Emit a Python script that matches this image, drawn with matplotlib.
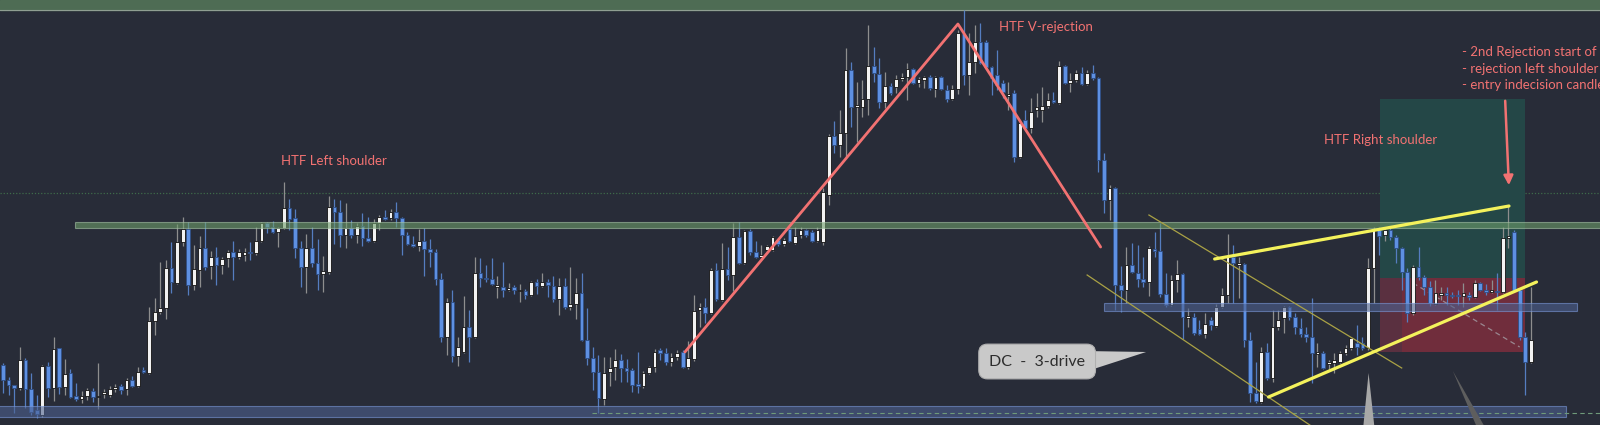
import numpy as np
import matplotlib.pyplot as plt
from matplotlib.patches import Rectangle, Polygon

# candle levels, in screen rows (0 = top edge, 425 = bottom)
opens = [
    365, 380, 385, 388, 360, 389, 410, 415, 366, 388, 348, 387, 373, 396, 399, 396, 391, 397,
    394, 395, 389, 386, 389, 380, 386, 370, 373, 321, 312, 308, 268, 283, 242, 229, 285, 270,
    248, 266, 257, 265, 258, 252, 257, 255, 252, 253, 241, 223, 227, 232, 228, 208, 218, 248,
    267, 248, 263, 274, 272, 207, 212, 235, 228, 235, 226, 238, 241, 223, 217, 218, 212,
    218, 235, 244, 246, 241, 249, 252, 279, 337, 302, 356, 352, 327, 337, 273, 278, 279, 287,
    287, 290, 287, 291, 291, 295, 282, 286, 282, 286, 299, 286, 307, 304, 293, 340, 358, 372,
    399, 372, 367, 360, 368, 370, 384, 386, 373, 367, 350, 353, 362, 357, 352, 367, 359, 310,
    307, 313, 270, 300, 269, 275, 237, 263, 231, 252, 257, 250, 250, 240, 244, 229, 243, 235,
    230, 232, 241,
    242, 195, 136, 145, 133, 70, 107, 107, 99, 66, 74, 102, 86, 87, 79, 77, 69, 83, 80, 77,
    89, 77, 90, 99, 89, 34, 75, 62, 42, 42, 67, 75, 83, 96, 93, 157, 120, 128, 110, 110,
    106, 100, 103, 66, 83, 80, 73, 84, 73, 78,
    160, 200, 188, 285, 290, 265, 273, 279, 282, 249, 251, 294, 305, 280, 274, 318, 317, 329,
    334, 320, 326, 307, 295, 257, 265, 264, 340, 393, 402, 352, 378, 327,
    318, 307, 317, 328, 334, 337, 354, 353, 364, 363, 362, 353, 348, 343, 343, 348, 268, 230,
    235, 230, 237, 248, 272, 313, 267, 277, 287, 304, 295, 293, 295, 295, 296, 295, 297, 283,
    290, 292, 291, 292, 238, 232,
    290, 337, 362,
]
highs = [
    363, 377, 385, 347, 358, 373, 395, 365, 362, 337, 348, 359, 369, 383, 391, 388, 388, 363,
    389, 386, 384, 384, 378, 376, 367, 367, 307, 298, 262, 260, 242, 224, 217, 222, 245, 236,
    222, 251, 247, 257, 250, 241, 249, 248, 242, 227, 222, 222, 221, 227, 182, 199, 209, 241,
    234, 227, 239, 256, 196, 199, 200, 203, 220, 223, 213, 217, 219, 215, 210, 209, 202,
    217, 232, 236, 229, 228, 239, 249, 273, 298, 290, 337, 296, 310, 257, 258, 265, 258, 276,
    262, 283, 285, 284, 289, 281, 279, 273, 279, 276, 278, 278, 267, 278, 273, 308, 347, 355,
    357, 357, 349, 354, 359, 368, 352, 371, 366, 349, 348, 348, 353, 350, 350, 341, 295, 303,
    298, 268, 263, 243, 247, 223, 222, 230, 229, 241, 245, 245, 236, 238, 238, 228, 227, 227,
    229, 230, 227,
    188, 134, 121, 110, 48, 62, 82, 80, 25, 47, 58, 72, 83, 75, 73, 63, 68, 77, 76, 75,
    76, 76, 85, 85, 30, 10, 33, 25, 23, 40, 66, 50, 80, 82, 90, 120, 110, 98, 93, 87,
    93, 92, 61, 65, 73, 70, 67, 70, 65, 77,
    153, 185, 187, 266, 247, 243, 245, 257, 246, 232, 223, 273, 275, 260, 273, 308, 313, 320,
    313, 317, 304, 288, 234, 245, 257, 263, 332, 362, 347, 343, 310, 310,
    306, 306, 313, 318, 327, 298, 343, 351, 360, 353, 351, 345, 337, 325, 337, 258, 227, 227,
    227, 227, 235, 247, 268, 265, 247, 275, 281, 280, 287, 287, 292, 290, 283, 292, 280, 282,
    284, 280, 273, 227, 205, 230,
    288, 332, 287,
]
lows = [
    393, 395, 413, 390, 408, 415, 418, 417, 397, 401, 394, 395, 398, 401, 403, 400, 402, 409,
    398, 397, 392, 394, 395, 387, 387, 373, 374, 335, 314, 319, 293, 284, 246, 295, 290, 287,
    270, 279, 285, 274, 267, 280, 259, 261, 260, 255, 242, 233, 233, 247, 229, 230, 258, 287,
    293, 267, 290, 292, 274, 244, 247, 248, 238, 243, 246, 242, 242, 230, 220, 220, 227,
    255, 245, 247, 251, 276, 267, 285, 342, 355, 362, 366, 353, 362, 338, 287, 282, 285, 298,
    297, 291, 294, 302, 299, 296, 294, 287, 297, 302, 315, 309, 310, 319, 341, 365, 390, 413,
    405, 386, 380, 382, 382, 392, 393, 388, 374, 372, 360, 365, 366, 360, 368, 369, 361, 327,
    323, 314, 301, 301, 280, 291, 264, 264, 255, 258, 258, 251, 251, 246, 246, 242, 244, 238,
    237, 242, 242,
    245, 205, 153, 157, 157, 127, 142, 117, 115, 82, 108, 108, 95, 93, 81, 100, 84, 87, 88, 90,
    97, 90, 102, 100, 94, 85, 95, 73, 64, 68, 95, 90, 98, 110, 162, 158, 130, 133, 117, 122,
    108, 103, 104, 84, 92, 82, 85, 85, 80, 172,
    213, 220, 310, 312, 303, 273, 287, 287, 296, 257, 297, 307, 306, 292, 339, 327, 335, 335,
    338, 330, 327, 308, 303, 303, 298, 347, 402, 403, 403, 380, 382, 330,
    333, 320, 334, 337, 342, 383, 367, 369, 369, 373, 363, 355, 350, 355, 350, 350, 303, 255,
    241, 240, 263, 290, 322, 315, 280, 295, 306, 305, 300, 305, 298, 305, 307, 300, 298, 291,
    295, 293, 310, 293, 248, 290,
    340, 395, 363,
]
closes = [
    380, 385, 388, 360, 389, 412, 414, 366, 388, 349, 387, 374, 397, 399, 396, 390, 397, 396,
    392, 389, 387, 390, 380, 386, 372, 372, 321, 312, 308, 268, 282, 242, 229, 285, 269, 248,
    267, 257, 265, 259, 252, 257, 252, 252, 253, 241, 223, 227, 232, 228, 208, 219, 248, 267,
    248, 263, 274, 271, 207, 212, 235, 228, 235, 226, 238, 241, 223, 217, 219, 212, 218,
    235, 244, 246, 241, 249, 252, 279, 337, 302, 356, 347, 327, 337, 273, 278, 279, 284, 285,
    290, 288, 290, 290, 295, 282, 286, 282, 285, 299, 286, 307, 304, 293, 340, 358, 372, 398,
    373, 368, 360, 368, 371, 385, 386, 373, 367, 352, 353, 362, 357, 353, 367, 358, 311, 307,
    313, 270, 299, 269, 275, 237, 263, 231, 252, 257, 255, 246, 237, 244, 240, 241, 236, 230,
    235, 241, 230,
    192, 136, 145, 133, 70, 107, 105, 99, 66, 73, 102, 86, 93, 79, 77, 69, 83, 79, 77, 88,
    77, 89, 99, 89, 33, 75, 62, 42, 63, 67, 78, 85, 92, 94, 157, 123, 128, 112, 107, 106,
    100, 102, 66, 83, 80, 73, 84, 73, 78, 160,
    200, 188, 285, 290, 265, 272, 279, 282, 248, 251, 294, 305, 280, 274, 317, 316, 333, 334,
    324, 325, 307, 295, 257, 263, 263, 340, 393, 401, 352, 378, 327, 320,
    307, 317, 327, 334, 337, 353, 352, 368, 362, 360, 353, 348, 338, 347, 348, 268, 230, 236,
    230, 237, 248, 272, 313, 267, 277, 287, 303, 293, 293, 295, 296, 296, 293, 297, 283, 290,
    292, 290, 292, 238, 236, 290,
    337, 362, 340,
]

notes = ["HTF Left shoulder", "HTF V-rejection", "HTF Right shoulder"]
entry_notes = ["- 2nd Rejection start of", "- rejection left shoulder", "- entry indecision candle"]

BG = "#282c38"
SALMON = "#f27272"
FONT = "Lato"

fig = plt.figure(figsize=(16, 4.25), dpi=100)
fig.patch.set_facecolor(BG)
ax = fig.add_axes([0, 0, 1, 1])
ax.set_facecolor(BG)
ax.set_xlim(-0.53, 284.3)
ax.set_ylim(425, 0)
ax.axis("off")

# background drawings
ax.axhspan(0, 10, color="#4e6c54", zorder=1)
ax.axhline(10, color="#8f9f92", lw=0.8, zorder=1)
ax.axhline(193, color="#3e6b4a", lw=0.9, ls=(0, (1, 1.5)), zorder=1)

# short position tool
ax.add_patch(Rectangle((245.1, 99), 25.8, 179, fc="#244747", ec="none", zorder=1))
ax.add_patch(Rectangle((245.1, 278), 25.8, 74, fc="#702d3c", ec="none", zorder=1))
ax.add_patch(Rectangle((245.1, 278), 3.9, 74, fc="#5a3040", ec="none", zorder=1))
ax.plot([251.0, 270.0], [283, 347], ls=(0, (4, 3)), color="#9a8790", lw=0.9, zorder=2)

# candles
o = np.array(opens, float)
h = np.array(highs, float)
l = np.array(lows, float)
c = np.array(closes, float)
idx = np.arange(len(o))
up = c < o  # rows count downward, so a bullish close sits above the open
ax.vlines(idx, h, l, colors=np.where(up, "#8e8e8e", "#557dc0"), linewidth=0.9, zorder=3)
ax.bar(idx, np.maximum(np.abs(c - o), 1.2), bottom=np.minimum(o, c), width=0.66,
       color=np.where(up, "#f2f2f2", "#5e90e2"), edgecolor=np.where(up, "#111111", "#2f4f86"),
       linewidth=0.6, zorder=4)

# zones
ax.add_patch(Rectangle((12.8, 222), 275, 6, fc="#6e9d6a", alpha=0.6, ec="#a5c2a5", lw=0.8, zorder=5))
ax.add_patch(Rectangle((196.0, 303), 84.2, 8, fc="#4d618f", alpha=0.6, ec="#7a98d8", lw=0.8, zorder=5))
ax.add_patch(Rectangle((-1, 406), 279.2, 11, fc="#4d618f", alpha=0.6, ec="#7a98d8", lw=0.8, zorder=5))
ax.plot([104.8, 286], [413, 413], ls=(0, (4, 3)), color="#6f9a7a", lw=0.8, zorder=5)

# pattern lines
ax.plot([121.4, 170.0, 195.4], [352, 24, 247], color=SALMON, lw=2.0, solid_capstyle="round", zorder=6)
ax.plot([204.0, 249.0], [215, 368], color="#aaa245", lw=0.9, zorder=6)
ax.plot([193.0, 236.6], [275, 440], color="#aaa245", lw=0.9, zorder=6)
ax.plot([215.7, 268.1], [259, 206], color="#f4f25c", lw=2.3, solid_capstyle="round", zorder=6)
ax.plot([225.3, 273.0], [397, 282], color="#f4f25c", lw=2.3, solid_capstyle="round", zorder=6)

# callouts
ax.add_patch(Polygon([(192.5, 351), (203.5, 352), (192.5, 372)], fc="#c9c9c9", ec="none", zorder=7))
ax.text(184.1, 361.5, "DC  -  3-drive", ha="center", va="center", fontsize=11.5, color="#2d2d2d",
        family=FONT, zorder=8,
        bbox=dict(boxstyle="round,pad=0.65,rounding_size=0.55", fc="#c9c9c9", ec="#b0b0b0", lw=0.8))
ax.add_patch(Polygon([(243.1, 373), (242.1, 430), (244.2, 430)], fc="#a8a8a8", ec="none", zorder=7))
ax.add_patch(Polygon([(258.1, 371), (262.6, 430), (264.1, 430)], fc="#5e5e5e", ec="none", zorder=7))

# labels
ax.text(49.5, 161, notes[0], color=SALMON, fontsize=9.5, va="center", family=FONT, zorder=8)
ax.text(177.3, 27, notes[1], color=SALMON, fontsize=9.5, va="center", family=FONT, zorder=8)
ax.text(235.1, 140, notes[2], color=SALMON, fontsize=9.5, va="center", family=FONT, zorder=8)
for k, line in enumerate(entry_notes):
    ax.text(259.7, 52 + 16.5 * k, line, color=SALMON, fontsize=9.5, va="center", family=FONT, zorder=8)
ax.annotate("", xy=(268.1, 188), xytext=(267.4, 98),
            arrowprops=dict(arrowstyle="-|>", color=SALMON, lw=1.8, mutation_scale=14), zorder=8)

fig.savefig("out.png", dpi=100, facecolor=BG)
